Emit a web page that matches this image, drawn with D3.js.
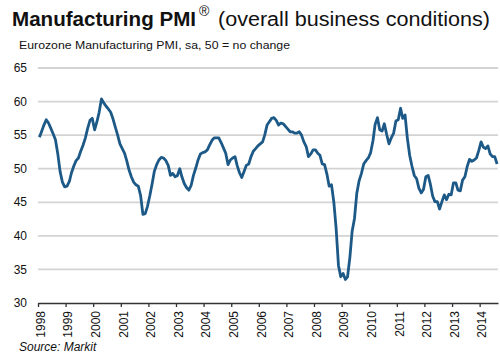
<!DOCTYPE html>
<html>
<head>
<meta charset="utf-8">
<script src="https://cdn.jsdelivr.net/npm/d3@7"></script>
<style>
  body { margin: 0; background: #fff; }
  svg { display: block; font-family: "Liberation Sans", Arial, sans-serif; }
</style>
</head>
<body>
<div id="chart"></div>
<script>
// Eurozone manufacturing PMI, monthly from Jan 1998
var startYear = 1998;
var pmi = [
  54.7, 55.6, 56.5, 57.3, 56.8, 56.0, 55.2, 54.3, 52.2, 49.6, 48.0, 47.3, // 1998
  47.4, 48.1, 49.4, 50.4, 51.2, 51.6, 52.6, 53.5, 54.6, 56.0, 57.2, 57.5, // 1999
  55.8, 57.0, 58.4, 60.4, 59.8, 59.3, 58.9, 58.4, 57.4, 56.2, 55.0, 53.7, // 2000
  53.0, 52.3, 51.2, 49.8, 48.8, 48.0, 47.6, 47.4, 46.0, 43.2, 43.3, 44.4, // 2001
  46.0, 47.8, 49.6, 50.6, 51.3, 51.7, 51.6, 51.2, 50.5, 49.0, 49.3, 48.8, // 2002
  49.0, 50.0, 48.8, 47.8, 47.2, 46.8, 47.5, 49.0, 50.1, 51.3, 52.2, 52.4, // 2003
  52.5, 52.8, 53.5, 54.2, 54.6, 54.6, 54.6, 53.9, 53.1, 52.3, 50.6, 51.3, // 2004
  51.6, 51.8, 50.5, 49.4, 48.7, 49.6, 50.5, 50.7, 51.8, 52.6, 53.0, 53.4, // 2005
  53.7, 54.0, 55.0, 56.5, 57.0, 57.5, 57.6, 57.2, 56.5, 56.8, 56.7, 56.3, // 2006
  55.9, 55.5, 55.5, 55.3, 55.3, 55.5, 55.0, 54.0, 53.3, 51.8, 52.2, 52.8, // 2007
  52.8, 52.3, 52.0, 50.7, 50.6, 49.2, 47.4, 47.6, 45.0, 41.1, 35.6, 33.9, // 2008
  34.4, 33.5, 33.9, 36.8, 40.7, 42.6, 46.3, 48.2, 49.3, 50.7, 51.2, 51.6, // 2009
  52.4, 54.2, 56.6, 57.6, 55.8, 55.6, 56.7, 55.1, 53.7, 54.6, 55.3, 57.1, // 2010
  57.3, 59.0, 57.5, 58.0, 54.6, 52.0, 50.4, 49.0, 48.5, 47.1, 46.4, 46.9, // 2011
  48.8, 49.0, 47.7, 45.9, 45.1, 45.1, 44.0, 45.1, 46.1, 45.4, 46.2, 46.1, // 2012
  47.9, 47.9, 46.8, 46.7, 48.3, 48.8, 50.3, 51.4, 51.1, 51.3, 51.6, 52.7, // 2013
  54.0, 53.2, 53.0, 53.4, 52.2, 51.8, 51.8, 50.7                          // 2014
];
var yTicks = [30, 35, 40, 45, 50, 55, 60, 65];
var yearTicks = d3.range(1998, 2015);

var width = 500, height = 353;
var plotLeft = 38, plotRight = 498, plotTop = 68, plotBottom = 303;

var data = pmi.map(function(v, i) {
  return { date: new Date(startYear, i, 20), value: v };
});

var svg = d3.select("#chart").append("svg")
  .attr("width", width)
  .attr("height", height);

var x = d3.scaleTime()
  .domain([new Date(1998, 0, 1), new Date(2014, 8, 1)])
  .range([plotLeft, plotRight]);

var y = d3.scaleLinear()
  .domain([30, 65])
  .range([plotBottom, plotTop]);

// title
var title = svg.append("text")
  .attr("x", 12)
  .attr("y", 26)
  .attr("fill", "#111");
title.append("tspan")
  .attr("font-weight", "bold")
  .attr("font-size", 20)
  .attr("textLength", 184)
  .attr("lengthAdjust", "spacingAndGlyphs")
  .text("Manufacturing PMI");
title.append("tspan")
  .attr("font-size", 14)
  .attr("dx", 3)
  .attr("dy", -10)
  .text("®");
title.append("tspan")
  .attr("x", 218)
  .attr("dy", 10)
  .attr("font-size", 20)
  .attr("textLength", 272)
  .attr("lengthAdjust", "spacingAndGlyphs")
  .text("(overall business conditions)");

svg.append("text")
  .attr("x", 19)
  .attr("y", 49)
  .attr("font-size", 11)
  .attr("textLength", 271)
  .attr("lengthAdjust", "spacingAndGlyphs")
  .attr("fill", "#111")
  .text("Eurozone Manufacturing PMI, sa, 50 = no change");

// gridlines
svg.append("g")
  .selectAll("line")
  .data(yTicks.filter(function(d) { return d > 30; }))
  .enter()
  .append("line")
  .attr("x1", plotLeft)
  .attr("x2", plotRight)
  .attr("y1", function(d) { return y(d); })
  .attr("y2", function(d) { return y(d); })
  .attr("stroke", "#d3d3d3")
  .attr("stroke-width", 1.8);

// y labels
svg.append("g")
  .selectAll("text")
  .data(yTicks)
  .enter()
  .append("text")
  .attr("x", 27)
  .attr("y", function(d) { return y(d); })
  .attr("dy", "0.35em")
  .attr("text-anchor", "end")
  .attr("font-size", 12)
  .attr("fill", "#111")
  .text(function(d) { return d; });

// x axis
var xAxis = d3.axisBottom(x)
  .tickValues(yearTicks.map(function(yr) { return new Date(yr, 0, 1); }))
  .tickSize(4)
  .tickSizeOuter(0)
  .tickFormat(d3.timeFormat("%Y"));

var gx = svg.append("g")
  .attr("transform", "translate(0," + plotBottom + ")")
  .call(xAxis);
gx.select(".domain").attr("stroke", "#333").attr("stroke-width", 1.3);
gx.selectAll(".tick line").attr("stroke", "#333").attr("stroke-width", 1.3);
gx.selectAll(".tick text")
  .attr("font-family", "Liberation Sans, Arial, sans-serif")
  .attr("font-size", 12)
  .attr("fill", "#111")
  .attr("text-anchor", "end")
  .attr("transform", "rotate(-90)")
  .attr("x", -8)
  .attr("y", 2)
  .attr("dy", "0.35em");

// line
var line = d3.line()
  .x(function(d) { return x(d.date); })
  .y(function(d) { return y(d.value); });

svg.append("path")
  .datum(data)
  .attr("d", line)
  .attr("fill", "none")
  .attr("stroke", "#1d5987")
  .attr("stroke-width", 2.8)
  .attr("stroke-linejoin", "round");

svg.append("text")
  .attr("x", 19)
  .attr("y", 351)
  .attr("font-size", 12)
  .attr("font-style", "italic")
  .attr("fill", "#111")
  .text("Source: Markit");
</script>
</body>
</html>
